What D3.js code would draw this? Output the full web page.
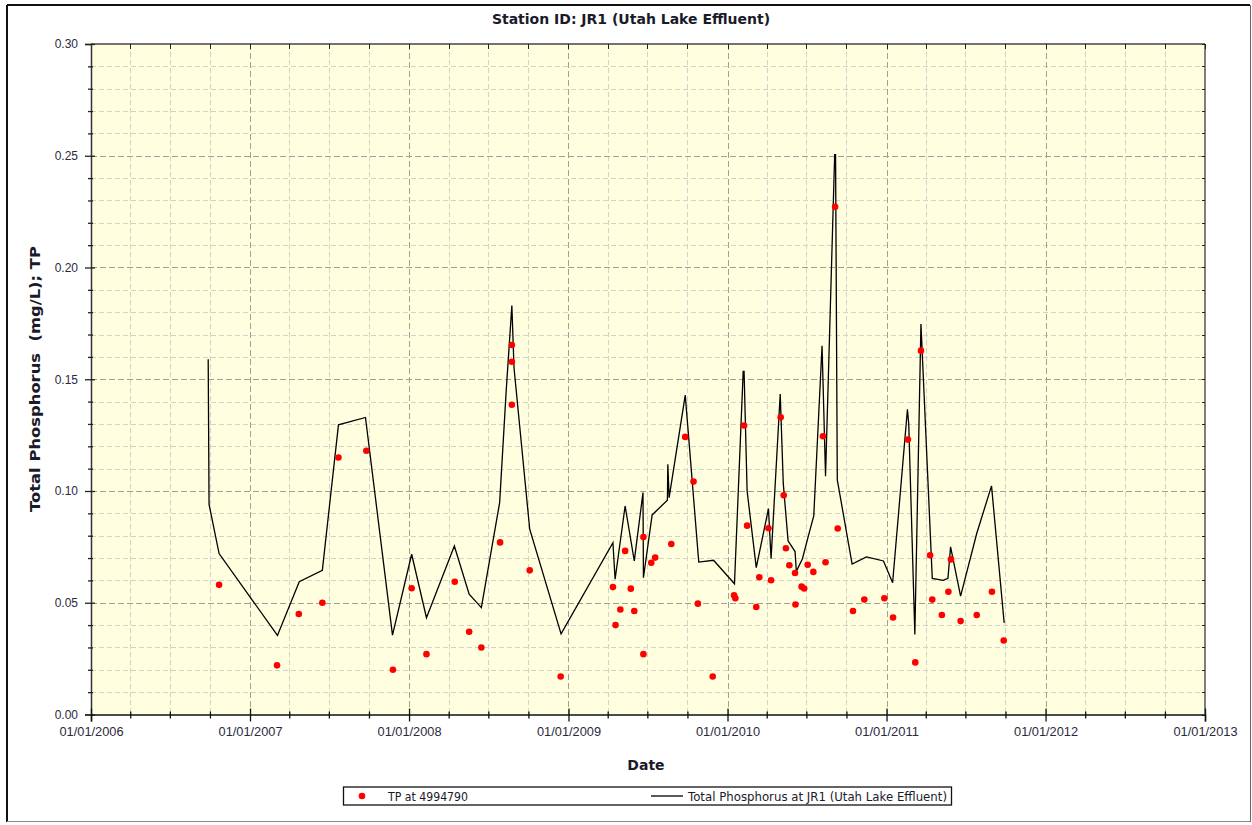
<!DOCTYPE html>
<html>
<head>
<meta charset="utf-8">
<title>Station ID: JR1 (Utah Lake Effluent)</title>
<script src="https://cdn.jsdelivr.net/npm/d3@7"></script>
<style>
  body { margin: 0; background: #ffffff; }
  svg { display: block; font-family: "DejaVu Sans", Verdana, sans-serif; }
</style>
</head>
<body>
<svg id="chart" width="1252" height="825"></svg>
<script>
// ---- Axis ticks ----
const yearTicks  = ["2006-01-01","2007-01-01","2008-01-01","2009-01-01","2010-01-01","2011-01-01","2012-01-01","2013-01-01"];
const yearLabels = ["01/01/2006","01/01/2007","01/01/2008","01/01/2009","01/01/2010","01/01/2011","01/01/2012","01/01/2013"];
const yTicks      = [0, 0.05, 0.10, 0.15, 0.20, 0.25, 0.30];
const yTickLabels = ["0.00","0.05","0.10","0.15","0.20","0.25","0.30"];

// ---- TP samples at station 4994790 (mg/L) ----
const tpDates = [
  "2006-10-22","2007-03-04","2007-04-23","2007-06-16","2007-07-23","2007-09-25","2007-11-25",
  "2008-01-07","2008-02-10","2008-04-15","2008-05-18","2008-06-15","2008-07-28",
  "2008-08-24","2008-08-24","2008-08-24","2008-10-04","2008-12-14",
  "2009-04-13","2009-04-19","2009-04-30","2009-05-11","2009-05-24","2009-06-01",
  "2009-06-22","2009-06-22","2009-07-10","2009-07-19","2009-08-25","2009-09-26",
  "2009-10-15","2009-10-25","2009-11-28",
  "2010-01-16","2010-01-19","2010-02-08","2010-02-15","2010-03-08","2010-03-15",
  "2010-04-05","2010-04-11","2010-05-03","2010-05-10","2010-05-15","2010-05-23",
  "2010-06-05","2010-06-06","2010-06-20","2010-06-26","2010-07-04","2010-07-17",
  "2010-08-08","2010-08-14","2010-09-05","2010-09-11","2010-10-16","2010-11-11","2010-12-27",
  "2011-01-16","2011-02-19","2011-03-08","2011-03-21","2011-04-11","2011-04-16",
  "2011-05-08","2011-05-23","2011-05-29","2011-06-20","2011-07-27","2011-08-31","2011-09-27"
];
const tpValues = [
  0.058, 0.022, 0.045, 0.050, 0.115, 0.118, 0.020,
  0.0565, 0.027, 0.0594, 0.037, 0.030, 0.077,
  0.1653, 0.1578, 0.1386, 0.0645, 0.017,
  0.057, 0.040, 0.047, 0.0732, 0.0563, 0.0463,
  0.0794, 0.027, 0.0679, 0.0702, 0.0763, 0.1242,
  0.1042, 0.0496, 0.017,
  0.0533, 0.052, 0.1293, 0.0845, 0.0481, 0.0614,
  0.0833, 0.0601, 0.133, 0.0981, 0.0744, 0.0668,
  0.0633, 0.0492, 0.0572, 0.0564, 0.067, 0.0638,
  0.1245, 0.0681, 0.2272, 0.0832, 0.0463, 0.0514, 0.052,
  0.0434, 0.123, 0.0233, 0.1628, 0.0712, 0.0514,
  0.0445, 0.0549, 0.0694, 0.0418, 0.0445, 0.0549, 0.0331
];

// ---- Total phosphorus at JR1 (Utah Lake Effluent), mg/L ----
const jr1Dates = [
  "2006-09-27","2006-09-29","2006-10-22","2007-03-05","2007-04-24","2007-06-16","2007-07-23",
  "2007-09-23","2007-11-24","2008-01-07","2008-02-10","2008-04-14","2008-05-18","2008-06-15",
  "2008-07-27","2008-08-11","2008-08-24","2008-08-29","2008-10-04","2008-12-15",
  "2009-04-13","2009-04-18","2009-05-11","2009-06-01","2009-06-21","2009-06-22","2009-07-12",
  "2009-08-16","2009-08-17","2009-08-20","2009-09-26","2009-10-27","2009-11-30",
  "2010-01-17","2010-02-06","2010-02-08","2010-02-15","2010-03-08","2010-04-05","2010-04-11",
  "2010-05-02","2010-05-09","2010-05-20","2010-06-05","2010-06-08","2010-06-22","2010-07-07",
  "2010-07-18","2010-08-06","2010-08-14","2010-09-04","2010-09-06","2010-09-10","2010-10-14",
  "2010-11-16","2010-12-25",
  "2011-01-15","2011-02-18","2011-02-21","2011-03-07","2011-03-21","2011-04-16","2011-05-11",
  "2011-05-22","2011-05-28","2011-06-20","2011-07-27","2011-08-30","2011-09-28"
];
const jr1Values = [
  0.159, 0.094, 0.072, 0.0354, 0.0594, 0.0645, 0.1296,
  0.1329, 0.0355, 0.0717, 0.0433, 0.0754, 0.0538, 0.0478,
  0.0948, 0.1448, 0.183, 0.155, 0.0829, 0.0361,
  0.0769, 0.0605, 0.0933, 0.0687, 0.0993, 0.0612, 0.0893,
  0.0959, 0.112, 0.097, 0.1429, 0.0682, 0.069,
  0.0585, 0.1535, 0.1535, 0.100, 0.0657, 0.0921, 0.0697,
  0.1434, 0.1034, 0.0777, 0.0729, 0.0641, 0.0697, 0.0809,
  0.0889, 0.165, 0.1066, 0.2505, 0.2505, 0.105, 0.0673,
  0.0705, 0.0687,
  0.059, 0.1366, 0.130, 0.0358, 0.1747, 0.0609, 0.060,
  0.0609, 0.075, 0.053, 0.081, 0.1023, 0.041
];

const parse = d3.utcParse("%Y-%m-%d");
const svg = d3.select("#chart");

const plot = { left: 91, right: 1205, top: 44, bottom: 714.5 };

const x = d3.scaleUtc()
  .domain([parse(yearTicks[0]), parse(yearTicks[yearTicks.length - 1])])
  .range([plot.left, plot.right]);
const y = d3.scaleLinear().domain([0, 0.30]).range([plot.bottom, plot.top]);

const quarterTicks = d3.utcMonth.every(3).range(x.domain()[0], new Date(+x.domain()[1] + 1));
const majorYears = yearTicks.map(parse);
const minorX = quarterTicks.filter(d => d.getUTCMonth() !== 0);
const minorY = d3.range(0, 31).map(i => i / 100).filter(v => Math.round(v * 100) % 5 !== 0);

// Outer frame
svg.append("rect").attr("x", 0).attr("y", 0).attr("width", 1252).attr("height", 825).attr("fill", "#ffffff");
svg.append("line").attr("x1", 7).attr("x2", 1250).attr("y1", 5).attr("y2", 5).attr("stroke", "#111").attr("stroke-width", 2);
svg.append("line").attr("x1", 7).attr("x2", 7).attr("y1", 5).attr("y2", 822).attr("stroke", "#111").attr("stroke-width", 2);
svg.append("line").attr("x1", 1250.5).attr("x2", 1250.5).attr("y1", 5).attr("y2", 822).attr("stroke", "#666").attr("stroke-width", 1);
svg.append("line").attr("x1", 7).attr("x2", 1250).attr("y1", 821.5).attr("y2", 821.5).attr("stroke", "#888").attr("stroke-width", 1);

// Plot background
svg.append("rect")
  .attr("x", plot.left).attr("y", plot.top)
  .attr("width", plot.right - plot.left).attr("height", plot.bottom - plot.top)
  .attr("fill", "#ffffe0");

// Grid
const grid = svg.append("g");
grid.selectAll("line.hmin").data(minorY).join("line")
  .attr("x1", plot.left).attr("x2", plot.right)
  .attr("y1", d => Math.round(y(d)) + 0.5).attr("y2", d => Math.round(y(d)) + 0.5)
  .attr("stroke", "#d2d2c8").attr("stroke-dasharray", "5,3");
grid.selectAll("line.vmin").data(minorX).join("line")
  .attr("y1", plot.top).attr("y2", plot.bottom)
  .attr("x1", d => Math.round(x(d)) + 0.5).attr("x2", d => Math.round(x(d)) + 0.5)
  .attr("stroke", "#d2d2c8").attr("stroke-dasharray", "5,3");
grid.selectAll("line.hmaj").data(yTicks.slice(1, -1)).join("line")
  .attr("x1", plot.left).attr("x2", plot.right)
  .attr("y1", d => Math.round(y(d)) + 0.5).attr("y2", d => Math.round(y(d)) + 0.5)
  .attr("stroke", "#a0a09a").attr("stroke-dasharray", "6,3");
grid.selectAll("line.vmaj").data(majorYears.slice(1, -1)).join("line")
  .attr("y1", plot.top).attr("y2", plot.bottom)
  .attr("x1", d => Math.round(x(d)) + 0.5).attr("x2", d => Math.round(x(d)) + 0.5)
  .attr("stroke", "#a0a09a").attr("stroke-dasharray", "6,3");

// Top and right borders with inward ticks
svg.append("line").attr("x1", plot.left).attr("x2", plot.right).attr("y1", plot.top).attr("y2", plot.top)
  .attr("stroke", "#444").attr("stroke-width", 1.5);
svg.append("line").attr("x1", plot.right).attr("x2", plot.right).attr("y1", plot.top).attr("y2", plot.bottom)
  .attr("stroke", "#555").attr("stroke-width", 1.5);
svg.append("g").selectAll("line").data(quarterTicks).join("line")
  .attr("x1", d => Math.round(x(d)) + 0.5).attr("x2", d => Math.round(x(d)) + 0.5)
  .attr("y1", plot.top).attr("y2", plot.top + 5).attr("stroke", "#222");
svg.append("g").selectAll("line").data(d3.range(0, 31).map(i => i / 100)).join("line")
  .attr("x1", plot.right - 3).attr("x2", plot.right)
  .attr("y1", d => Math.round(y(d)) + 0.5).attr("y2", d => Math.round(y(d)) + 0.5).attr("stroke", "#222");

// Left axis
const yAxis = svg.append("g").attr("transform", `translate(${plot.left},0)`)
  .call(d3.axisLeft(y).tickValues(yTicks).tickFormat((d, i) => yTickLabels[i]).tickSize(6).tickPadding(7));
yAxis.selectAll(".tick line").attr("x2", -6).attr("x1", 4).attr("stroke", "#222").attr("stroke-width", 1.3);
yAxis.select(".domain").attr("stroke", "#333").attr("stroke-width", 1.5);
yAxis.selectAll(".tick text").attr("fill", "#2a2a3c").attr("font-size", 12);
svg.append("g").attr("transform", `translate(${plot.left},0)`)
  .call(d3.axisLeft(y).tickValues(minorY).tickFormat("").tickSize(3))
  .call(g => g.select(".domain").remove())
  .call(g => g.selectAll(".tick line").attr("x1", 2).attr("stroke", "#222").attr("stroke-width", 1.3));

// Bottom axis
const xAxis = svg.append("g").attr("transform", `translate(0,${plot.bottom})`)
  .call(d3.axisBottom(x).tickValues(majorYears).tickFormat((d, i) => yearLabels[i]).tickSize(7).tickPadding(6));
xAxis.selectAll(".tick line").attr("y1", -6).attr("stroke", "#111").attr("stroke-width", 1.3);
xAxis.select(".domain").attr("stroke", "#111").attr("stroke-width", 1.5);
xAxis.selectAll(".tick text").attr("fill", "#2a2a3c").attr("font-size", 12)
  .each(function () { fit(d3.select(this), 64); });
svg.append("g").attr("transform", `translate(0,${plot.bottom})`)
  .call(d3.axisBottom(x).tickValues(minorX).tickFormat("").tickSize(4))
  .call(g => g.select(".domain").remove())
  .call(g => g.selectAll(".tick line").attr("y1", -3).attr("stroke", "#111").attr("stroke-width", 1.3));

// Fit a text element to a given width
function fit(sel, w) {
  const n = sel.node().getComputedTextLength();
  if (Math.abs(n - w) / w > 0.02) sel.attr("textLength", w).attr("lengthAdjust", "spacingAndGlyphs");
  return sel;
}

// Titles
fit(svg.append("text").attr("x", 631).attr("y", 24).attr("text-anchor", "middle")
  .attr("font-weight", "bold").attr("font-size", 14).attr("fill", "#1a1a2a")
  .text("Station ID: JR1 (Utah Lake Effluent)"), 273);
fit(svg.append("text").attr("transform", "translate(40,379) rotate(-90)").attr("text-anchor", "middle")
  .attr("font-weight", "bold").attr("font-size", 14).attr("fill", "#1a1a2a")
  .attr("xml:space", "preserve")
  .text("Total Phosphorus  (mg/L); TP"), 266);
svg.append("text").attr("x", 646).attr("y", 770).attr("text-anchor", "middle")
  .attr("font-weight", "bold").attr("font-size", 14).attr("fill", "#1a1a2a").text("Date");

// JR1 line
const line = d3.line().x((d, i) => x(parse(jr1Dates[i]))).y(d => y(d));
svg.append("path").datum(jr1Values).attr("d", line)
  .attr("fill", "none").attr("stroke", "#000").attr("stroke-width", 1.3).attr("stroke-linejoin", "miter");

// TP samples
svg.append("g").selectAll("circle").data(tpValues).join("circle")
  .attr("cx", (d, i) => x(parse(tpDates[i]))).attr("cy", d => y(d)).attr("r", 3.3)
  .attr("fill", "#ff0000");

// Legend
const lg = svg.append("g");
lg.append("rect").attr("x", 343.5).attr("y", 787).attr("width", 608).attr("height", 18)
  .attr("fill", "#fff").attr("stroke", "#111").attr("stroke-width", 1.3);
lg.append("circle").attr("cx", 362).attr("cy", 796).attr("r", 3.3).attr("fill", "#ff0000");
fit(lg.append("text").attr("x", 388).attr("y", 800.5).attr("font-size", 11.5).attr("fill", "#1a1a2a")
  .text("TP at 4994790"), 80);
lg.append("line").attr("x1", 651).attr("x2", 683).attr("y1", 796).attr("y2", 796)
  .attr("stroke", "#000").attr("stroke-width", 1.3);
fit(lg.append("text").attr("x", 688).attr("y", 800.5).attr("font-size", 11.5).attr("fill", "#1a1a2a")
  .text("Total Phosphorus at JR1 (Utah Lake Effluent)"), 259);
</script>
</body>
</html>
